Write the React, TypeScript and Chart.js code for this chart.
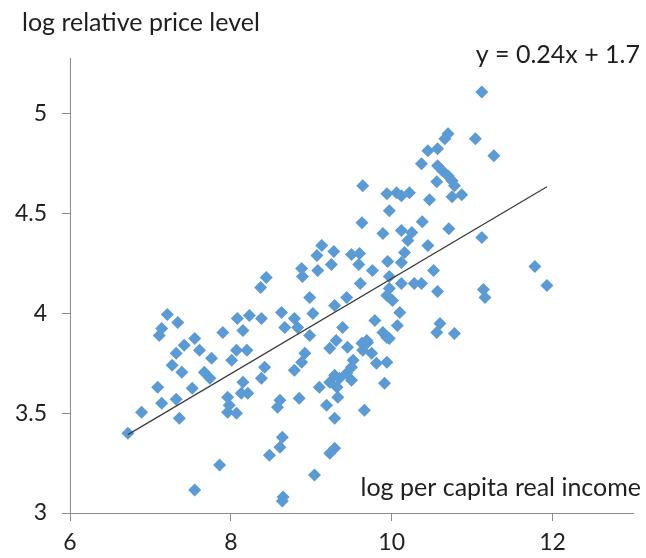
import React, { useEffect, useRef } from "react";
import { Chart, registerables } from "chart.js";

Chart.register(...registerables);

// log per capita real income (x) for each country
const incomeX = [
  6.72, 6.89, 7.09, 7.14, 7.11, 7.14, 7.21, 7.27, 7.32, 7.32,
  7.34, 7.36, 7.39, 7.42, 7.52, 7.55, 7.55, 7.61, 7.67, 7.74,
  7.76, 7.86, 7.9, 7.96, 7.98, 7.96, 8.07, 8.01, 8.07, 8.2,
  8.08, 8.15, 8.23, 8.38, 8.15, 8.13, 8.21, 8.42, 8.38, 8.37,
  8.44, 8.48, 8.63, 8.67, 8.79, 8.83, 8.88, 8.89, 9.08, 9.13,
  9.07, 9.28, 9.25, 9.5, 9.6, 9.59, 8.98, 9.02, 8.98, 9.29,
  9.39, 9.31, 9.23, 8.92, 8.88, 8.79, 9.45, 9.63, 9.7, 9.64,
  9.75, 9.81, 9.94, 9.1, 9.23, 9.29, 9.35, 9.44, 9.5, 9.52,
  9.32, 9.5, 8.61, 8.58, 8.85, 9.19, 9.33, 9.29, 9.66, 9.91,
  8.64, 8.61, 9.29, 9.23, 9.04, 8.64, 8.65, 9.44, 9.61, 9.97,
  9.97, 9.94, 10.01, 10.12, 10.28, 10.37, 10.1, 9.79, 10.07, 9.89,
  9.94, 9.97, 9.69, 9.64, 9.94, 10.06, 10.12, 10.22, 9.97, 9.63,
  9.89, 10.12, 10.25, 10.2, 10.16, 9.95, 10.12, 9.76, 11.12, 10.7,
  10.66, 11.04, 11.27, 10.45, 10.57, 10.37, 10.57, 10.63, 10.7, 10.75,
  10.78, 10.56, 10.47, 10.75, 10.87, 10.38, 10.71, 11.12, 10.45, 10.52,
  11.78, 11.93, 11.14, 11.16, 10.57, 10.6, 10.56, 10.78,
];

// log relative price level (y) for each country
const priceY = [
  3.4, 3.505, 3.63, 3.55, 3.89, 3.925, 3.995, 3.74, 3.57, 3.8,
  3.955, 3.475, 3.705, 3.84, 3.625, 3.875, 3.115, 3.815, 3.705, 3.675,
  3.775, 3.24, 3.905, 3.58, 3.54, 3.505, 3.5, 3.765, 3.815, 3.815,
  3.975, 3.915, 3.99, 3.975, 3.655, 3.6, 3.6, 3.73, 3.675, 4.13,
  4.18, 3.29, 4.005, 3.93, 3.975, 3.93, 4.225, 4.185, 4.215, 4.34,
  4.29, 4.31, 4.245, 4.295, 4.3, 4.245, 4.08, 4.0, 3.89, 4.04,
  3.93, 3.865, 3.825, 3.8, 3.755, 3.715, 3.83, 3.85, 3.855, 3.815,
  3.8, 3.75, 3.755, 3.63, 3.655, 3.69, 3.675, 3.7, 3.73, 3.765,
  3.63, 3.665, 3.565, 3.53, 3.575, 3.54, 3.58, 3.475, 3.515, 3.65,
  3.38, 3.33, 3.325, 3.3, 3.19, 3.06, 3.08, 4.08, 4.15, 4.185,
  4.125, 4.09, 4.065, 4.15, 4.15, 4.15, 4.005, 3.965, 3.94, 3.905,
  3.88, 3.875, 3.865, 4.64, 4.6, 4.605, 4.59, 4.605, 4.515, 4.455,
  4.4, 4.415, 4.405, 4.365, 4.305, 4.26, 4.255, 4.215, 5.11, 4.9,
  4.875, 4.875, 4.79, 4.815, 4.825, 4.75, 4.74, 4.715, 4.69, 4.665,
  4.64, 4.66, 4.57, 4.585, 4.595, 4.46, 4.425, 4.38, 4.34, 4.215,
  4.235, 4.14, 4.12, 4.08, 4.11, 3.95, 3.905, 3.9,
];

const xTickValues = [6, 8, 10, 12];
const yTickValues = [3, 3.5, 4, 4.5, 5];
const xRange = [6, 13];
const yRange = [3, 5.28];

// fitted linear trend (shown rounded in the label)
const trendSlope = 0.2385;
const trendIntercept = 1.79;

const yAxisTitle = "log relative price level";
const xAxisTitle = "log per capita real income";
const equationLabel = "y = 0.24x + 1.7";

const FONT = "Lato";
const TEXT_COLOR = "#1f1f1f";
const AXIS_COLOR = "#8c8c8c";
const MARKER_COLOR = "#5B9BD5";

export default function App() {
  const canvasRef = useRef<HTMLCanvasElement | null>(null);

  useEffect(() => {
    document.body.style.margin = "0";
    const canvas = canvasRef.current;
    if (!canvas) return;

    const points = incomeX.map((x, i) => ({ x, y: priceY[i] }));
    const minX = Math.min(...incomeX);
    const maxX = Math.max(...incomeX);
    const trend = [minX, maxX].map((x) => ({ x, y: trendSlope * x + trendIntercept }));

    const textPlugin = {
      id: "freeLabels",
      afterDraw(chart: any) {
        const ctx = chart.ctx as CanvasRenderingContext2D;
        ctx.save();
        ctx.fillStyle = TEXT_COLOR;
        ctx.font = `25px ${FONT}`;
        ctx.textBaseline = "alphabetic";
        ctx.textAlign = "left";
        ctx.fillText(yAxisTitle, 22, 31);
        ctx.textAlign = "right";
        ctx.fillText(equationLabel, 640, 63);
        ctx.fillText(xAxisTitle, 641, 496);
        ctx.restore();
      },
    };

    const chart = new Chart(canvas, {
      type: "scatter",
      data: {
        datasets: [
          {
            type: "line" as any,
            data: trend,
            borderColor: "#3a3a3a",
            borderWidth: 1.2,
            pointRadius: 0,
            fill: false,
            order: 0,
          } as any,
          {
            data: points,
            pointStyle: "rectRot",
            pointRadius: 6.5,
            pointBackgroundColor: MARKER_COLOR,
            pointBorderColor: MARKER_COLOR,
            pointBorderWidth: 0,
            order: 1,
          } as any,
        ],
      },
      options: {
        animation: false,
        responsive: true,
        maintainAspectRatio: false,
        layout: { padding: { top: 58, right: 13, left: 0, bottom: 0 } },
        plugins: { legend: { display: false }, tooltip: { enabled: false } },
        scales: {
          x: {
            type: "linear",
            min: xRange[0],
            max: xRange[1],
            afterBuildTicks: (s: any) => {
              s.ticks = xTickValues.map((v) => ({ value: v }));
            },
            afterFit: (s: any) => {
              s.height = 45;
            },
            grid: { display: true, drawOnChartArea: false, drawTicks: true, tickLength: 8, color: AXIS_COLOR },
            border: { display: true, color: AXIS_COLOR, width: 1 },
            ticks: {
              font: { family: FONT, size: 23 },
              color: TEXT_COLOR,
              padding: 8,
              maxRotation: 0,
              autoSkip: false,
              callback: (v: any) => String(v),
            },
          },
          y: {
            type: "linear",
            min: yRange[0],
            max: yRange[1],
            afterBuildTicks: (s: any) => {
              s.ticks = yTickValues.map((v) => ({ value: v }));
            },
            afterFit: (s: any) => {
              s.width = 70;
            },
            grid: { display: true, drawOnChartArea: false, drawTicks: true, tickLength: 8, color: AXIS_COLOR },
            border: { display: true, color: AXIS_COLOR, width: 1 },
            ticks: {
              font: { family: FONT, size: 23 },
              color: TEXT_COLOR,
              padding: 15,
              autoSkip: false,
              callback: (v: any) => String(v),
            },
          },
        },
      },
      plugins: [textPlugin],
    });

    return () => chart.destroy();
  }, []);

  return (
    <div style={{ position: "absolute", left: 0, top: 0, width: 646, height: 558 }}>
      <canvas ref={canvasRef} />
    </div>
  );
}
